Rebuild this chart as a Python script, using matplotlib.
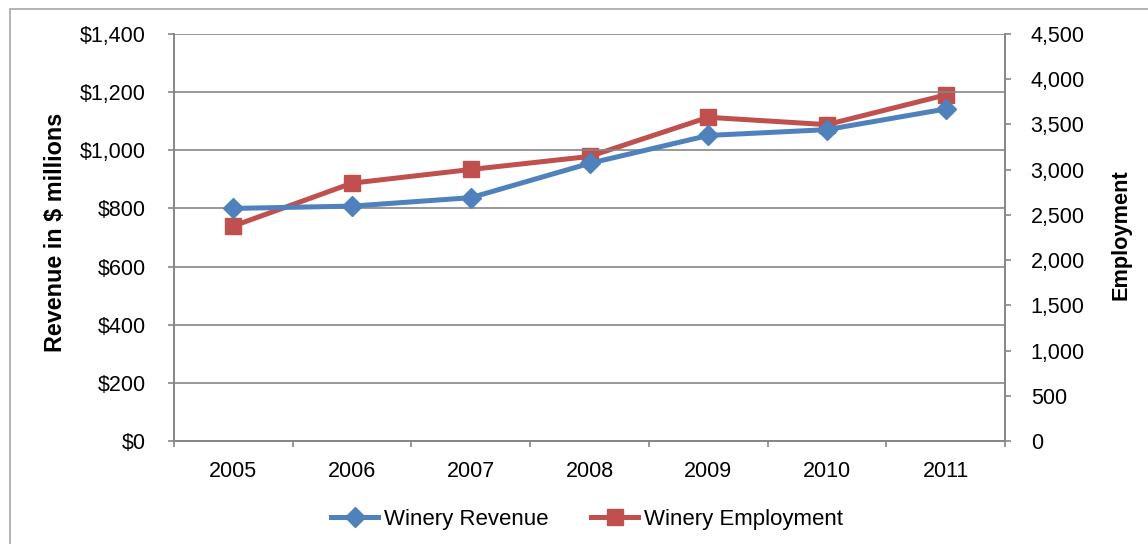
import matplotlib
matplotlib.use("Agg")
import matplotlib.pyplot as plt
from matplotlib.patches import Rectangle
from matplotlib.ticker import FuncFormatter, FixedLocator

plt.rcParams['font.family'] = ['Liberation Sans', 'DejaVu Sans']

years = ["2005", "2006", "2007", "2008", "2009", "2010", "2011"]
revenue = [800, 808, 837, 955, 1051, 1071, 1142]
employment = [2377, 2851, 3002, 3146, 3579, 3498, 3826]

blue = "#4F81BD"
red = "#C0504D"
grid_c = "#868686"
W, H = 1148, 544

fig = plt.figure(figsize=(W/100, H/100), dpi=100)
ax = fig.add_axes([174/W, 1-441/H, (1005-174)/W, (441-34)/H])
ax2 = ax.twinx()

x = list(range(len(years)))
l1, = ax.plot(x, revenue, color=blue, lw=3.6, marker="D", markersize=10.5,
              label="Winery Revenue", zorder=3)
l2, = ax2.plot(x, employment, color=red, lw=3.6, marker="s", markersize=12,
               label="Winery Employment", zorder=3)

ax.set_xlim(-0.5, len(years) - 0.5)
ax.set_ylim(0, 1400)
ax2.set_ylim(0, 4500)
ax.set_yticks(range(0, 1401, 200))
ax2.set_yticks(range(0, 4501, 500))
ax.yaxis.set_major_formatter(FuncFormatter(lambda v, p: f"${int(v):,}"))
ax2.yaxis.set_major_formatter(FuncFormatter(lambda v, p: f"{int(v):,}"))

ax.set_xticks(x)
ax.set_xticklabels(years)
ax.xaxis.set_minor_locator(FixedLocator([i - 0.5 for i in range(len(years) + 1)]))
ax.tick_params(axis="x", which="major", length=0, pad=14.4, labelsize=15.5)
ax.tick_params(axis="x", which="minor", length=4.5, color=grid_c, width=1.2, direction="out")
ax.tick_params(axis="y", length=4.5, color=grid_c, width=1.2, labelsize=15.5, pad=16)
ax2.tick_params(axis="y", length=4.5, color=grid_c, width=1.2, labelsize=15.5, pad=14)

ax.grid(axis="y", color=grid_c, lw=1.2)
ax.set_axisbelow(True)

for a in (ax, ax2):
    a.spines["top"].set_visible(False)
    for s in ("left", "right", "bottom"):
        a.spines[s].set_color(grid_c)
        a.spines[s].set_linewidth(1.2)

fig.text(56/W, 1-232.5/H, "Revenue in $ millions", rotation=90, ha="center", va="center",
         fontsize=16.8, fontweight="bold")
fig.text(1121/W, 1-235/H, "Employment", rotation=90, ha="center", va="center",
         fontsize=15.7, fontweight="bold")

ax.set_zorder(ax2.get_zorder() + 1)
ax.patch.set_visible(False)

fig.legend([l1, l2], ["Winery Revenue", "Winery Employment"], loc="center",
           bbox_to_anchor=(587/W, 1-519/H), ncol=2, frameon=False,
           fontsize=16, handlelength=2.1, handletextpad=0.25, columnspacing=1.95,
           borderpad=0, borderaxespad=0)

fig.patches.append(Rectangle((10/W, -0.05), 1.2, 1-9/H+0.05, transform=fig.transFigure,
                             fill=False, edgecolor="#A6A6A6", lw=1.2, zorder=-1))

fig.savefig("out.png", dpi=100)
